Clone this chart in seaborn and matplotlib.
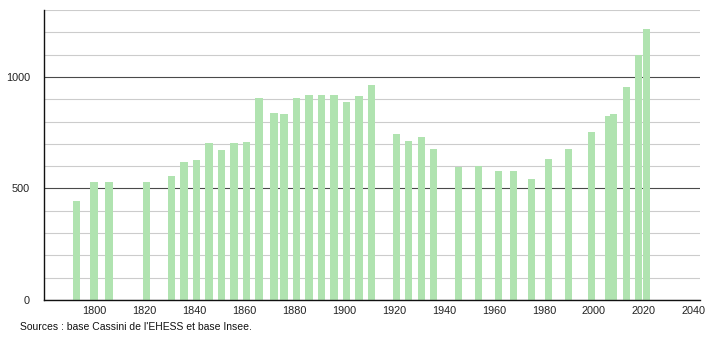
import matplotlib
matplotlib.use("Agg")
import matplotlib.pyplot as plt
from matplotlib.ticker import MultipleLocator, FixedLocator
import seaborn as sns
import pandas as pd

years = [1793, 1800, 1806, 1821, 1831, 1836, 1841, 1846, 1851, 1856, 1861, 1866,
         1872, 1876, 1881, 1886, 1891, 1896, 1901, 1906, 1911, 1921, 1926, 1931,
         1936, 1946, 1954, 1962, 1968, 1975, 1982, 1990, 1999, 2006, 2008, 2013,
         2018, 2021]
population = [445, 528, 530, 528, 558, 618, 627, 703, 672, 702, 708, 906,
              838, 834, 906, 919, 920, 918, 889, 914, 962, 744, 712, 732,
              677, 594, 602, 578, 578, 542, 632, 677, 752, 824, 834, 955,
              1097, 1215]
x_ticks = [1800, 1820, 1840, 1860, 1880, 1900, 1920, 1940, 1960, 1980, 2000, 2020, 2040]
y_ticks = [0, 500, 1000]
source_text = "Sources : base Cassini de l'EHESS et base Insee."

sns.set_style("white")
plt.rcParams['font.family'] = ['Liberation Sans', 'DejaVu Sans']

df = pd.DataFrame({"year": years, "pop": population})

fig = plt.figure(figsize=(7.1, 3.4), dpi=100)
ax = fig.add_axes([44 / 710, 40 / 340, (700 - 44) / 710, 290 / 340])

sns.barplot(data=df, x="year", y="pop", native_scale=True, width=1.45,
            color="#b0e3b0", saturation=1, linewidth=0, ax=ax, errorbar=None)

ax.set_xlim(1780, 2042.5)
ax.set_ylim(0, 1300)
ax.set_xlabel("")
ax.set_ylabel("")

ax.xaxis.set_major_locator(FixedLocator(x_ticks))
ax.set_xticklabels([str(t) for t in x_ticks])
ax.yaxis.set_major_locator(FixedLocator(y_ticks))
ax.yaxis.set_minor_locator(MultipleLocator(100))
ax.set_yticklabels([str(t) for t in y_ticks])

ax.set_axisbelow(True)
ax.grid(False)
ax.yaxis.grid(True, which="major", color="#4a4a4a", linewidth=0.8)
ax.yaxis.grid(True, which="minor", color="#cccccc", linewidth=0.8)

ax.tick_params(axis="x", which="both", length=0, pad=4, labelsize=7.8, colors="#222222")
ax.tick_params(axis="y", which="major", length=5, width=0.8, direction="out",
               pad=5, labelsize=7.8, colors="#222222")
ax.tick_params(axis="y", which="minor", length=2.5, width=0.8, direction="inout",
               color="#222222")

for s in ["top", "right"]:
    ax.spines[s].set_visible(False)
for s in ["left", "bottom"]:
    ax.spines[s].set_color("#111111")
    ax.spines[s].set_linewidth(1.0)

fig.text(20 / 710, 1 - 327 / 340, source_text, fontsize=7.5, color="#111111",
         ha="left", va="center")

fig.savefig("out.png", dpi=100)
